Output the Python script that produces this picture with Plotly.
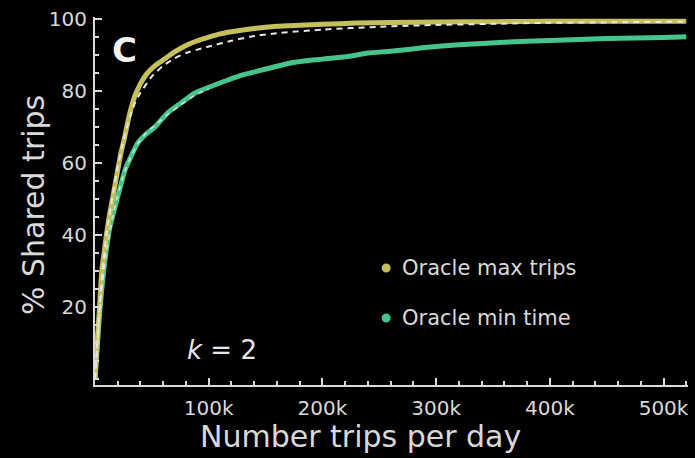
import plotly.graph_objects as go

# ---- data (x in thousands of trips per day, y in % shared trips) ----
max_trips_x = [0, 1, 2, 4, 6, 8, 10, 13, 16, 20, 23, 26, 30, 35, 40, 45, 50, 55, 60, 70, 80, 90,
               100, 110, 120, 140, 160, 180, 200, 230, 260, 300, 350, 400, 450, 500, 520]
max_trips_y = [0, 5, 10, 20, 30, 35, 40, 46, 51, 58, 63, 67, 73, 78.5, 82, 84.5, 86.2, 87.5, 88.6,
               90.8, 92.6, 93.9, 94.9, 95.8, 96.4, 97.3, 97.9, 98.2, 98.5, 98.8, 99.0, 99.1, 99.2,
               99.3, 99.3, 99.3, 99.3]

min_time_x = [0, 2, 4, 6, 8, 10, 13, 17.6, 22, 26.4, 32, 37.8, 45, 52.8, 64, 75, 88, 100, 117, 130,
              147, 173, 200, 224, 240, 260, 290, 320, 360, 400, 450, 500, 520]
min_time_y = [0, 9, 18, 25, 31, 36, 42, 47.8, 53, 58, 62, 65.6, 68, 70, 73.9, 76.5, 79.4, 81, 83,
              84.4, 85.8, 87.8, 88.8, 89.6, 90.5, 91, 92, 92.8, 93.5, 94, 94.5, 94.8, 95]

fit_max_x = [0, 5, 10, 15, 20, 25, 30, 35, 40, 50, 60, 70, 80, 92, 100, 120, 136, 160, 200, 250,
             300, 350, 400, 450, 520]
fit_max_y = [0, 24, 40, 50, 59, 66, 72, 76.5, 79.5, 84, 87, 89, 90.5, 91.6, 92.3, 93.9, 95, 96,
             97, 97.8, 98.3, 98.6, 98.9, 99.0, 99.2]

fit_min_x = [0, 5, 10, 15, 20, 26, 32, 38, 45, 53, 64, 75, 88, 100]
fit_min_y = [0, 22, 35, 44, 51, 57.5, 62, 65.5, 68.3, 70.5, 73.5, 76, 78.8, 80.5]

x_tick_vals = [100, 200, 300, 400, 500]
x_tick_text = ["100k", "200k", "300k", "400k", "500k"]
y_tick_vals = [20, 40, 60, 80, 100]
y_tick_text = ["20", "40", "60", "80", "100"]

series_names = ["Oracle max trips", "Oracle min time"]

YELLOW = "#c6c05a"
GREEN = "#45c48c"
FG = "#d9d9d9"
FONT = "DejaVu Sans"

fig = go.Figure()
fig.add_trace(go.Scatter(x=min_time_x, y=min_time_y, mode="lines",
                         line=dict(color=GREEN, width=5, shape="spline", smoothing=0.5),
                         name=series_names[1], showlegend=False))
fig.add_trace(go.Scatter(x=max_trips_x, y=max_trips_y, mode="lines",
                         line=dict(color=YELLOW, width=5, shape="spline", smoothing=0.5),
                         name=series_names[0], showlegend=False))
fig.add_trace(go.Scatter(x=fit_min_x, y=fit_min_y, mode="lines",
                         line=dict(color="rgba(235,235,235,0.75)", width=1.8, dash="5px,5px",
                                   shape="spline", smoothing=0.5),
                         showlegend=False))
fig.add_trace(go.Scatter(x=fit_max_x, y=fit_max_y, mode="lines",
                         line=dict(color="#e6e6e6", width=2, dash="6px,5px",
                                   shape="spline", smoothing=0.5),
                         showlegend=False))

axis_common = dict(showgrid=False, zeroline=False, showline=True, linecolor=FG, linewidth=2,
                   ticks="inside", tickcolor=FG, tickwidth=1.5, ticklen=7,
                   tickfont=dict(family=FONT, size=20, color=FG))

fig.update_xaxes(range=[0, 521.5], tickmode="array", tickvals=x_tick_vals, ticktext=x_tick_text,
                 minor=dict(tickmode="linear", tick0=0, dtick=20, ticks="inside", ticklen=4,
                            tickcolor=FG, tickwidth=1.5),
                 ticklabelstandoff=4, **axis_common)
fig.update_yaxes(range=[-1.7, 100.5], tickmode="array", tickvals=y_tick_vals, ticktext=y_tick_text,
                 minor=dict(tickmode="linear", tick0=0, dtick=5, ticks="inside", ticklen=4,
                            tickcolor=FG, tickwidth=1.5),
                 ticklabelstandoff=2, **axis_common)

annotations = [
    dict(text="Number trips per day", xref="paper", yref="paper", x=0.447, y=-0.139,
         xanchor="center", yanchor="middle", showarrow=False,
         font=dict(family=FONT, size=30, color=FG)),
    dict(text="% Shared trips", xref="paper", yref="paper", x=-0.1045, y=0.489,
         xanchor="center", yanchor="middle", textangle=-90, showarrow=False,
         font=dict(family=FONT, size=30, color=FG)),
    dict(text="<b>C</b>", xref="paper", yref="paper", x=0.049, y=0.91,
         xanchor="center", yanchor="middle", showarrow=False,
         font=dict(family=FONT, size=34, color="#f2f2f2")),
    dict(text="<i>k</i> = 2", xref="paper", yref="paper", x=0.152, y=0.095,
         xanchor="left", yanchor="middle", showarrow=False,
         font=dict(family=FONT, size=26, color="#e6e6e6")),
    dict(text=series_names[0], xref="paper", yref="paper", x=0.514, y=0.318,
         xanchor="left", yanchor="middle", showarrow=False,
         font=dict(family=FONT, size=21, color=FG)),
    dict(text=series_names[1], xref="paper", yref="paper", x=0.514, y=0.182,
         xanchor="left", yanchor="middle", showarrow=False,
         font=dict(family=FONT, size=21, color=FG)),
]

shapes = [
    dict(type="circle", xref="paper", yref="paper", xsizemode="pixel", ysizemode="pixel",
         xanchor=0.491, yanchor=0.318, x0=-4.5, x1=4.5, y0=-4.5, y1=4.5,
         fillcolor=YELLOW, line=dict(width=0)),
    dict(type="circle", xref="paper", yref="paper", xsizemode="pixel", ysizemode="pixel",
         xanchor=0.491, yanchor=0.182, x0=-4.5, x1=4.5, y0=-4.5, y1=4.5,
         fillcolor=GREEN, line=dict(width=0)),
]

fig.update_layout(width=695, height=458, autosize=False,
                  margin=dict(l=95, r=7, t=17, b=73),
                  paper_bgcolor="black", plot_bgcolor="black",
                  annotations=annotations, shapes=shapes, showlegend=False)

fig.write_html("out.html")
